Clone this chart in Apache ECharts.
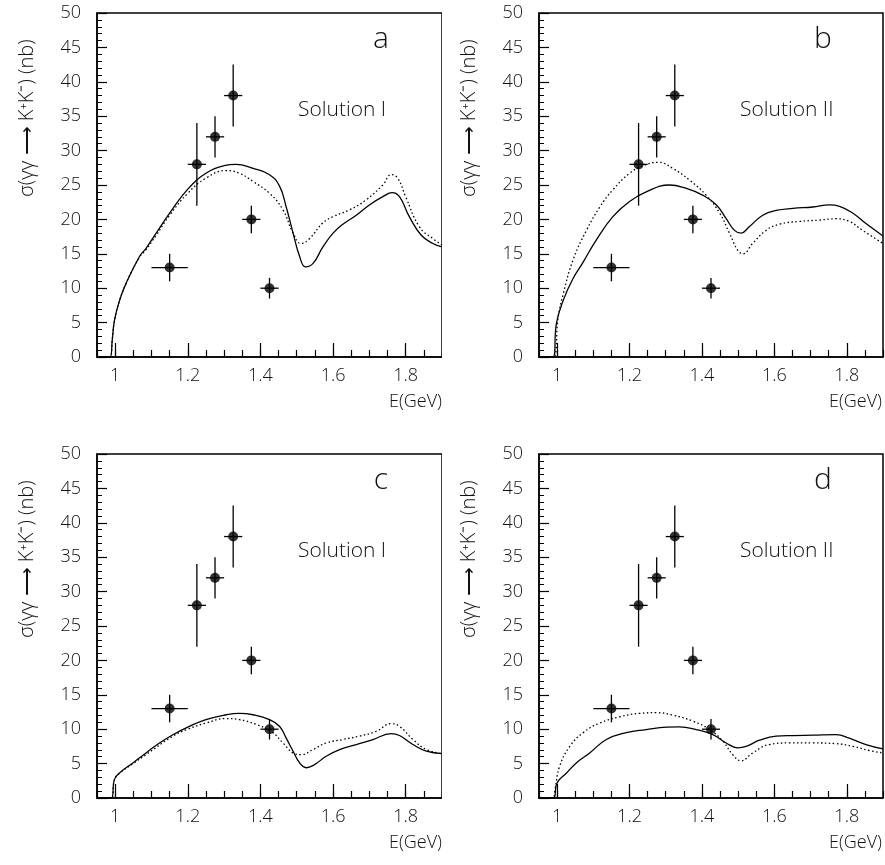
<!DOCTYPE html>
<html>
<head>
<meta charset="utf-8">
<script src="https://cdn.jsdelivr.net/npm/echarts@6/dist/echarts.min.js"></script>
<style>
  html, body { margin: 0; padding: 0; background: #fff; }
  #page { position: relative; width: 885px; height: 865px; }
  .panel { position: absolute; }
</style>
</head>
<body>
<div id="page">
  <div id="pa" class="panel" style="left:0;top:0;width:442px;height:441px"></div>
  <div id="pb" class="panel" style="left:442px;top:0;width:443px;height:441px"></div>
  <div id="pc" class="panel" style="left:0;top:441px;width:442px;height:424px"></div>
  <div id="pd" class="panel" style="left:442px;top:441px;width:443px;height:424px"></div>
  <div id="qa" class="panel" style="left:0;top:0;width:442px;height:441px"></div>
  <div id="qb" class="panel" style="left:442px;top:0;width:443px;height:441px"></div>
  <div id="qc" class="panel" style="left:0;top:441px;width:442px;height:424px"></div>
  <div id="qd" class="panel" style="left:442px;top:441px;width:443px;height:424px"></div>
</div>
<script>
// measured points (same in all panels)
const dataE = [1.15, 1.225, 1.275, 1.325, 1.375, 1.425];
const dataSigma = [13, 28, 32, 38, 20, 10];
const dataEErr = [0.05, 0.025, 0.025, 0.025, 0.025, 0.025];
const dataSigmaErr = [2, 6, 3, 4.5, 2, 1.5];

// axis ticks
const xMajorTicks = [1, 1.2, 1.4, 1.6, 1.8];

// panel a
const aSolidX = [0.95, 0.986, 0.992, 0.998, 1.012, 1.03, 1.067, 1.085, 1.113, 1.15, 1.2, 1.25, 1.3, 1.333, 1.38, 1.425, 1.453, 1.471, 1.49, 1.508, 1.524, 1.545, 1.572, 1.6, 1.627, 1.664, 1.7, 1.737, 1.763, 1.783, 1.81, 1.843, 1.875, 1.9];
const aSolidY = [0, 0, 2.5, 5.3, 8.2, 10.7, 14.6, 15.8, 18, 20.9, 24.4, 26.7, 27.8, 28, 27.4, 26.5, 24.8, 21.8, 18, 14.6, 13.1, 13.6, 16, 18, 19.3, 20.6, 22.1, 23.3, 23.9, 23.3, 20.4, 17.7, 16.5, 16];
const aDotX = [0.95, 0.986, 0.992, 0.998, 1.012, 1.03, 1.067, 1.085, 1.113, 1.15, 1.2, 1.25, 1.306, 1.342, 1.38, 1.425, 1.462, 1.49, 1.512, 1.535, 1.572, 1.6, 1.646, 1.69, 1.737, 1.76, 1.778, 1.8, 1.838, 1.875, 1.9];
const aDotY = [0, 0, 2.5, 5.3, 8.2, 10.7, 14.5, 15.6, 17.7, 20.6, 23.8, 26, 27.1, 26.7, 25.5, 23.8, 21.4, 18, 16.5, 17.2, 19.5, 20.4, 21.4, 22.8, 25, 26.5, 26, 23.3, 18.9, 17.2, 16.3];

// panel b
const bSolidX = [0.95, 0.989, 0.998, 1.017, 1.044, 1.072, 1.108, 1.154, 1.2, 1.246, 1.31, 1.357, 1.403, 1.44, 1.467, 1.49, 1.508, 1.53, 1.568, 1.605, 1.651, 1.706, 1.752, 1.78, 1.817, 1.853, 1.9];
const bSolidY = [0, 0, 4.85, 8.25, 11.4, 13.8, 17, 20.4, 22.6, 24, 25, 24.5, 23.5, 22.1, 20.1, 18.4, 18, 18.9, 20.6, 21.3, 21.6, 21.8, 22.1, 21.9, 20.9, 19.4, 17.6];
const bDotX = [0.95, 0.989, 1.003, 1.017, 1.044, 1.081, 1.118, 1.154, 1.2, 1.237, 1.279, 1.32, 1.366, 1.412, 1.449, 1.476, 1.499, 1.513, 1.54, 1.577, 1.614, 1.669, 1.725, 1.77, 1.807, 1.844, 1.9];
const bDotY = [0, 0, 5.8, 9.2, 14.1, 18.4, 21.8, 24.3, 26.7, 27.8, 28.3, 27.4, 25.7, 23.5, 20.9, 18, 15.5, 15, 16.5, 18.4, 19.3, 19.7, 19.9, 20.1, 19.7, 18.4, 16.5];

// panel c
const cSolidX = [0.95, 0.989, 0.998, 1.012, 1.049, 1.085, 1.122, 1.159, 1.2, 1.25, 1.306, 1.342, 1.38, 1.425, 1.453, 1.471, 1.49, 1.508, 1.526, 1.549, 1.581, 1.618, 1.664, 1.71, 1.76, 1.783, 1.82, 1.857, 1.9];
const cSolidY = [0, 0, 2.67, 3.64, 5.1, 6.55, 8, 9.2, 10.3, 11.4, 12.1, 12.3, 12.1, 11.4, 10.4, 8.7, 6.8, 5.1, 4.4, 4.85, 6.07, 7.04, 7.77, 8.5, 9.37, 9.08, 7.77, 6.8, 6.46];
const cDotX = [0.95, 0.989, 0.998, 1.012, 1.049, 1.085, 1.159, 1.2, 1.25, 1.306, 1.342, 1.388, 1.434, 1.462, 1.49, 1.512, 1.545, 1.581, 1.627, 1.673, 1.719, 1.76, 1.783, 1.82, 1.857, 1.9];
const cDotY = [0, 0, 2.67, 3.6, 5.0, 6.3, 9, 10, 10.9, 11.55, 11.4, 10.7, 9.5, 8, 6.55, 6.3, 7.04, 8, 8.5, 9, 9.7, 10.8, 10.4, 8.5, 7.04, 6.46];

// panel d
const dSolidX = [0.95, 0.989, 1.0, 1.026, 1.053, 1.09, 1.136, 1.191, 1.246, 1.302, 1.338, 1.384, 1.43, 1.467, 1.499, 1.522, 1.559, 1.605, 1.651, 1.706, 1.771, 1.807, 1.853, 1.9];
const dSolidY = [0, 0, 2.2, 3.64, 5.1, 6.55, 8.5, 9.5, 9.95, 10.3, 10.34, 9.95, 9.2, 8, 7.3, 7.5, 8.4, 9, 9.08, 9.13, 9.2, 8.7, 7.77, 7.14];
const dDotX = [0.95, 0.988, 0.994, 1.007, 1.035, 1.072, 1.118, 1.173, 1.228, 1.274, 1.32, 1.375, 1.421, 1.458, 1.485, 1.508, 1.54, 1.586, 1.642, 1.706, 1.771, 1.817, 1.862, 1.9];
const dDotY = [0, 0, 1.2, 4.6, 7.5, 9.5, 10.9, 11.8, 12.3, 12.4, 12.04, 11.17, 9.95, 8.25, 6.3, 5.4, 6.55, 7.77, 8, 8, 7.9, 7.5, 6.9, 6.55];

const panelLetters = ['a', 'b', 'c', 'd'];
const panelTitles = ['Solution I', 'Solution II', 'Solution I', 'Solution II'];
const yTitle = 'σ(γγ ⟶ K⁺K⁻) (nb)';
const xTitle = 'E(GeV)';

const FONT = '"Open Sans", sans-serif';
const INK = '#111';

const curveIds = ['pa', 'pb', 'pc', 'pd'];
const frameIds = ['qa', 'qb', 'qc', 'qd'];
const curves = [
    [aSolidX, aSolidY, aDotX, aDotY],
    [bSolidX, bSolidY, bDotX, bDotY],
    [cSolidX, cSolidY, cDotX, cDotY],
    [dSolidX, dSolidY, dDotX, dDotY]
];
// grid box inside each panel div
const boxes = [
    { left: 97, top: 13, width: 346, height: 344 },
    { left: 97, top: 13, width: 344, height: 344 },
    { left: 97, top: 13, width: 346, height: 344 },
    { left: 97, top: 13, width: 344, height: 344 }
];

function zip(xs, ys) {
    return xs.map((x, i) => [x, ys[i]]);
}

const points = dataE.map((e, i) => [e, dataSigma[i], dataEErr[i], dataSigmaErr[i]]);

function renderErr(params, api) {
    const x = api.value(0), y = api.value(1), ex = api.value(2), ey = api.value(3);
    const l = api.coord([x - ex, y]);
    const r = api.coord([x + ex, y]);
    const t = api.coord([x, y + ey]);
    const b = api.coord([x, y - ey]);
    const st = { stroke: '#000', lineWidth: 1.3 };
    return {
        type: 'group',
        children: [
            { type: 'line', shape: { x1: l[0], y1: l[1], x2: r[0], y2: r[1] }, style: st },
            { type: 'line', shape: { x1: t[0], y1: t[1], x2: b[0], y2: b[1] }, style: st }
        ]
    };
}

// bottom layer: the two model curves and the texts
function curveOption(i) {
    const bx = boxes[i];
    const c = curves[i];
    return {
        animation: false,
        grid: [Object.assign({}, bx)],
        xAxis: [{ type: 'value', min: 0.95, max: 1.9, show: false }],
        yAxis: [{ type: 'value', min: 0, max: 50, show: false }],
        series: [{
            type: 'line', data: zip(c[0], c[1]), showSymbol: false, smooth: 0.45,
            lineStyle: { color: '#000', width: 1.3 }, silent: true
        }, {
            type: 'line', data: zip(c[2], c[3]), showSymbol: false, smooth: 0.45,
            lineStyle: { color: '#000', width: 1.3, type: [1.5, 2.5] }, silent: true
        }],
        graphic: [{
            type: 'text', x: bx.left - 70, y: bx.top + 184, rotation: Math.PI / 2,
            style: { text: yTitle, fill: INK, font: '300 20px ' + FONT, textAlign: 'left', textVerticalAlign: 'middle' }
        }, {
            type: 'text', x: bx.left + bx.width - 1, y: bx.top + 389,
            style: { text: xTitle, fill: INK, font: '300 18px ' + FONT, textAlign: 'right', textVerticalAlign: 'middle' }
        }, {
            type: 'text', x: bx.left + 284, y: bx.top + 26,
            style: { text: panelLetters[i], fill: INK, font: '300 30px ' + FONT, textAlign: 'center', textVerticalAlign: 'middle' }
        }, {
            type: 'text', x: bx.left + 201, y: bx.top + 97,
            style: { text: panelTitles[i], fill: INK, font: '300 21px ' + FONT, textAlign: 'left', textVerticalAlign: 'middle' }
        }]
    };
}

// top layer: frame, axes with ticks, data points with error bars
function frameOption(i) {
    const bx = boxes[i];
    return {
        animation: false,
        grid: [Object.assign({ show: true, borderColor: '#000', borderWidth: 1.5 }, bx)],
        xAxis: [{
            type: 'value', gridIndex: 0, min: 0.95, max: 1.9,
            axisLine: { show: true, lineStyle: { color: '#000', width: 1.5 } },
            axisTick: { show: true, inside: true, length: 14, customValues: xMajorTicks, lineStyle: { color: '#000', width: 1.2 } },
            axisLabel: { show: true, customValues: xMajorTicks, margin: 10, color: INK, fontSize: 18, fontFamily: FONT, fontWeight: 300 },
            splitLine: { show: false }
        }, {
            // minor ticks every 0.05
            type: 'value', gridIndex: 0, min: 0.95, max: 1.9, interval: 0.05, position: 'bottom',
            axisLine: { show: false },
            axisTick: { show: true, inside: true, length: 7, lineStyle: { color: '#000', width: 1.2 } },
            axisLabel: { show: false },
            splitLine: { show: false }
        }],
        yAxis: [{
            type: 'value', gridIndex: 0, min: 0, max: 50, interval: 5,
            axisLine: { show: true, lineStyle: { color: '#000', width: 1.5 } },
            axisTick: { show: true, inside: true, length: 10, lineStyle: { color: '#000', width: 1.2 } },
            minorTick: { show: true, splitNumber: 5, length: 5, lineStyle: { color: '#000', width: 1 } },
            axisLabel: { show: true, margin: 16, color: INK, fontSize: 18, fontFamily: FONT, fontWeight: 300 },
            splitLine: { show: false }
        }],
        series: [{
            type: 'custom', data: points, renderItem: renderErr, encode: { x: 0, y: 1 }, z: 4, silent: true
        }, {
            type: 'scatter', data: points.map(p => [p[0], p[1]]),
            symbol: 'circle', symbolSize: 10, itemStyle: { color: '#000' }, z: 5, silent: true
        }]
    };
}

curveIds.forEach((id, i) => {
    echarts.init(document.getElementById(id)).setOption(curveOption(i));
});
frameIds.forEach((id, i) => {
    echarts.init(document.getElementById(id)).setOption(frameOption(i));
});
</script>
</body>
</html>
